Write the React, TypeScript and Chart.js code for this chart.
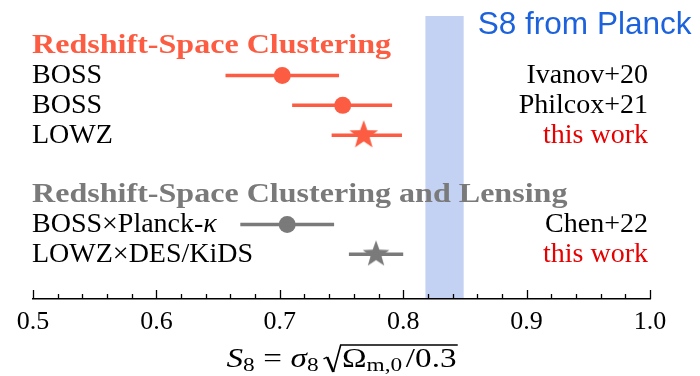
import { useEffect, useRef } from "react";
import { Chart, registerables } from "chart.js";
Chart.register(...registerables);

// ---- data ----
const groupTitles = ["Redshift-Space Clustering", "Redshift-Space Clustering and Lensing"];
const groupRows = [0, 5];
const rowLabels = ["BOSS", "BOSS", "LOWZ", "BOSS×Planck-κ", "LOWZ×DES/KiDS"];
const rowRefs = ["Ivanov+20", "Philcox+21", "this work", "Chen+22", "this work"];
const rowPos = [1, 2, 3, 6, 7];
const rowGroup = [0, 0, 0, 1, 1];
const rowMarker = ["circle", "circle", "star", "circle", "star"];
const s8Center = [0.702, 0.751, 0.768, 0.706, 0.778];
const s8Low = [0.656, 0.710, 0.742, 0.668, 0.756];
const s8High = [0.748, 0.791, 0.799, 0.744, 0.800];
const planckBand = [0.818, 0.849];
const planckLabel = "S8 from Planck";
const xTicks = [0.5, 0.6, 0.7, 0.8, 0.9, 1.0];
const xMinorStep = 0.02;

// ---- style ----
const groupColors = ["#fc5c42", "#7a7a7a"];
const refColorThisWork = "#e60000";
const bandColor = "#c3d1f3";
const blueText = "#1c62dc";
const SERIF = '"Liberation Serif", "Times New Roman", serif';

function makeStar(R: number, color: string) {
  const size = Math.ceil(2 * R + 4);
  const c = document.createElement("canvas");
  c.width = size;
  c.height = size;
  const ctx = c.getContext("2d")!;
  const cx = size / 2, cy = size / 2;
  ctx.beginPath();
  for (let i = 0; i < 10; i++) {
    const r = i % 2 === 0 ? R : R * 0.41;
    const a = -Math.PI / 2 + (i * Math.PI) / 5;
    const x = cx + r * Math.cos(a), y = cy + r * Math.sin(a);
    if (i === 0) ctx.moveTo(x, y);
    else ctx.lineTo(x, y);
  }
  ctx.closePath();
  ctx.fillStyle = color;
  ctx.fill();
  return c;
}

function drawLabel(ctx: CanvasRenderingContext2D, text: string, x: number, y: number, align: "left" | "right", size: number, color: string) {
  const parts = text.split("κ");
  const runs: { t: string; f: string }[] = [];
  parts.forEach((p, i) => {
    if (p) runs.push({ t: p, f: `${size}px ${SERIF}` });
    if (i < parts.length - 1) runs.push({ t: "κ", f: `italic ${size}px ${SERIF}` });
  });
  let total = 0;
  runs.forEach((r) => { ctx.font = r.f; total += ctx.measureText(r.t).width; });
  let cx = align === "left" ? x : x - total;
  ctx.fillStyle = color;
  ctx.textAlign = "left";
  ctx.textBaseline = "alphabetic";
  runs.forEach((r) => { ctx.font = r.f; ctx.fillText(r.t, cx, y); cx += ctx.measureText(r.t).width; });
}

const forestPlugin = {
  id: "forest",
  beforeDraw(chart: any) {
    const { ctx, chartArea, scales } = chart;
    const xs = scales.x;
    const x0 = xs.getPixelForValue(planckBand[0]);
    const x1 = xs.getPixelForValue(planckBand[1]);
    ctx.save();
    ctx.fillStyle = bandColor;
    ctx.fillRect(x0, chartArea.top, x1 - x0, chartArea.bottom - chartArea.top - 1);
    ctx.restore();
  },
  afterDraw(chart: any) {
    const { ctx, chartArea, scales } = chart;
    const xs = scales.x, ys = scales.y;
    ctx.save();
    // inward ticks
    ctx.strokeStyle = "#000";
    ctx.lineWidth = 1.3;
    const nMinor = Math.round((xTicks[xTicks.length - 1] - xTicks[0]) / xMinorStep);
    for (let i = 0; i <= nMinor; i++) {
      const v = xTicks[0] + i * xMinorStep;
      const isMajor = i % 5 === 0;
      const px = Math.round(xs.getPixelForValue(v)) + 0.5;
      ctx.beginPath();
      ctx.moveTo(px, chartArea.bottom);
      ctx.lineTo(px, chartArea.bottom - (isMajor ? 9 : 5));
      ctx.stroke();
    }
    // headers (bold serif, widened like the reference's extended bold face)
    const hFont = `bold 27px ${SERIF}`;
    ctx.font = hFont;
    const hScale = 359 / ctx.measureText(groupTitles[0]).width;
    groupTitles.forEach((t, g) => {
      ctx.save();
      ctx.font = hFont;
      ctx.fillStyle = groupColors[g];
      ctx.textAlign = "left";
      ctx.textBaseline = "alphabetic";
      ctx.translate(chartArea.left - 1, ys.getPixelForValue(groupRows[g]) + 7.5);
      ctx.scale(hScale, 1);
      ctx.fillText(t, 0, 0);
      ctx.restore();
    });
    // row labels
    rowLabels.forEach((t, i) => {
      const y = ys.getPixelForValue(rowPos[i]) + 7.5;
      drawLabel(ctx, t, chartArea.left - 1, y, "left", 28, "#000");
      const ref = rowRefs[i];
      drawLabel(ctx, ref, chartArea.right - 2, y, "right", 28, ref === "this work" ? refColorThisWork : "#000");
    });
    // Planck label
    ctx.font = `30px "Liberation Sans", Arial, sans-serif`;
    const pSize = (30 * 214) / ctx.measureText(planckLabel).width;
    ctx.font = `${pSize}px "Liberation Sans", Arial, sans-serif`;
    ctx.fillStyle = blueText;
    ctx.textAlign = "left";
    ctx.fillText(planckLabel, xs.getPixelForValue(planckBand[1]) + 14, 34);

    // axis title: S_8 = sigma_8 sqrt(Omega_{m,0}/0.3)
    const base = 367;
    const big = 27, sub = 19;
    type Run = { t: string; f: string; dy: number; gap?: number; rad?: boolean };
    const runs: Run[] = [
      { t: "S", f: `italic ${big}px ${SERIF}`, dy: 0 },
      { t: "8", f: `${sub}px ${SERIF}`, dy: 4, gap: 0 },
      { t: "=", f: `${big}px ${SERIF}`, dy: 0, gap: 7 },
      { t: "σ", f: `italic ${big}px ${SERIF}`, dy: 0, gap: 7 },
      { t: "8", f: `${sub}px ${SERIF}`, dy: 4, gap: 0 },
      { t: "", f: "", dy: 0, gap: 4, rad: true },
      { t: "Ω", f: `${big}px ${SERIF}`, dy: 0, gap: 0 },
      { t: "m,0", f: `${sub}px ${SERIF}`, dy: 4, gap: 0 },
      { t: "/0.3", f: `${big}px ${SERIF}`, dy: 0, gap: 3 },
    ];
    const radW = 15;
    let total = 0;
    runs.forEach((r) => {
      total += r.gap || 0;
      if (r.rad) total += radW;
      else { ctx.font = r.f; total += ctx.measureText(r.t).width; }
    });
    const targetW = 230;
    const sx = targetW / total;
    ctx.save();
    ctx.translate((chartArea.left + chartArea.right) / 2 - targetW / 2, 0);
    ctx.scale(sx, 1);
    let cx = 0;
    let radStart = 0;
    ctx.fillStyle = "#000";
    ctx.textAlign = "left";
    runs.forEach((r) => {
      cx += r.gap || 0;
      if (r.rad) { radStart = cx; cx += radW; return; }
      ctx.font = r.f;
      ctx.fillText(r.t, cx, base + r.dy);
      cx += ctx.measureText(r.t).width;
    });
    // radical sign
    ctx.strokeStyle = "#000";
    ctx.lineJoin = "miter";
    ctx.lineWidth = 1.3;
    ctx.beginPath();
    ctx.moveTo(radStart, base - 8);
    ctx.lineTo(radStart + 3, base - 10);
    ctx.stroke();
    ctx.lineWidth = 2.2;
    ctx.beginPath();
    ctx.moveTo(radStart + 3, base - 10);
    ctx.lineTo(radStart + 8, base + 5);
    ctx.stroke();
    ctx.lineWidth = 1.3;
    ctx.beginPath();
    ctx.moveTo(radStart + 8, base + 5);
    ctx.lineTo(radStart + radW - 1, base - 22);
    ctx.lineTo(cx + 1, base - 22);
    ctx.stroke();
    ctx.restore();
    ctx.restore();
  },
};

export default function App() {
  const ref = useRef<HTMLCanvasElement>(null);
  useEffect(() => {
    document.body.style.margin = "0";
    const canvas = ref.current!;
    const datasets: any[] = [];
    rowPos.forEach((y, i) => {
      const color = groupColors[rowGroup[i]];
      datasets.push({
        type: "scatter",
        showLine: true,
        data: [{ x: s8Low[i], y }, { x: s8High[i], y }],
        borderColor: color,
        borderWidth: 3.5,
        pointRadius: 0,
        borderCapStyle: "butt",
      });
    });
    rowPos.forEach((y, i) => {
      const color = groupColors[rowGroup[i]];
      const star = rowMarker[i] === "star";
      datasets.push({
        type: "scatter",
        data: [{ x: s8Center[i], y }],
        backgroundColor: color,
        borderWidth: 0,
        pointRadius: star ? 15 : 8.5,
        pointStyle: star ? makeStar(rowGroup[i] === 0 ? 15 : 14, color) : "circle",
      });
    });
    const chart = new Chart(canvas, {
      type: "scatter",
      data: { datasets },
      options: {
        animation: false,
        responsive: false,
        events: [],
        layout: { padding: { left: 33, right: 50, top: 16, bottom: 17 } },
        plugins: { legend: { display: false }, tooltip: { enabled: false } },
        scales: {
          x: {
            type: "linear",
            min: xTicks[0],
            max: xTicks[xTicks.length - 1],
            afterBuildTicks: (s: any) => { s.ticks = xTicks.map((v) => ({ value: v })); },
            afterFit: (s: any) => { s.height = 60; },
            ticks: {
              callback: (v: any) => Number(v).toFixed(1),
              font: { family: "Liberation Serif", size: 26 },
              color: "#000",
              padding: 8,
              maxRotation: 0,
              autoSkip: false,
            },
            grid: { display: false, drawTicks: false },
            border: { display: true, color: "#000", width: 1.5 },
          },
          y: { type: "linear", reverse: true, min: -1, max: 8.5, display: false },
        },
      },
      plugins: [forestPlugin],
    });
    return () => chart.destroy();
  }, []);
  return (
    <div style={{ width: 700, height: 376 }}>
      <canvas ref={ref} width={700} height={376} style={{ display: "block" }} />
    </div>
  );
}
